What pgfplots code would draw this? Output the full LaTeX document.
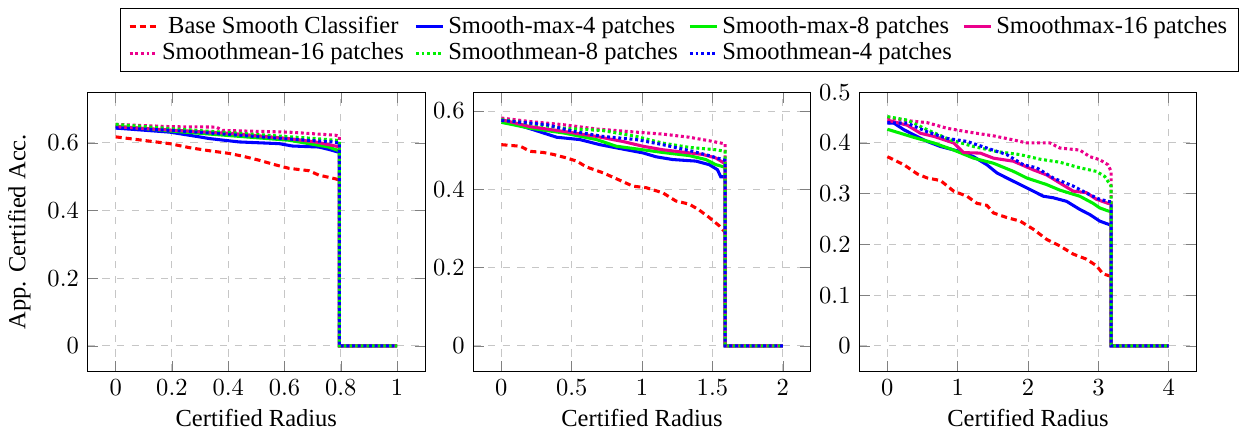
\documentclass[border=0pt]{standalone}
\usepackage{fontspec}
\setmainfont{Liberation Serif}
\usepackage{pgfplots}
\pgfplotsset{compat=1.18}
\definecolor{mypink}{RGB}{235,0,140}
\definecolor{mygreen}{RGB}{0,240,0}
\pgfplotsset{
  myax/.style={
    scale only axis, width=137.7pt, height=113.8pt,
    grid=major, grid style={dashed, gray!45, line width=0.4pt},
    xlabel={Certified Radius},
    xticklabel style={yshift=0pt},
    every axis x label/.append style={yshift=1.3pt},
    legend image code/.code={\draw[##1] (0pt,0pt) -- (11pt,0pt);},
  },
  sbase/.style={red, line width=1.25pt, dash pattern=on 2.5pt off 1.6pt},
  smaxfour/.style={blue, line width=1.25pt},
  smaxeight/.style={mygreen, line width=1.25pt},
  smaxsixteen/.style={mypink, line width=1.25pt},
  smeansixteen/.style={mypink, line width=1.25pt, dash pattern=on 1.2pt off 1.1pt},
  smeaneight/.style={mygreen, line width=1.25pt, dash pattern=on 1.2pt off 1.1pt},
  smeanfour/.style={blue, line width=1.25pt, dash pattern=on 1.2pt off 1.1pt},
}
\begin{document}
\begin{tikzpicture}
% ---------------- axis 1 ----------------
\begin{axis}[myax, at={(0pt,0pt)}, anchor=south west,
  xmin=-0.1, xmax=1.1, ymin=-0.075, ymax=0.75,
  xtick={0,0.2,0.4,0.6,0.8,1}, ytick={0,0.2,0.4,0.6},
  ylabel={App. Certified Acc.},
  title={\mbox{}},
  title style={at={(0.5,1.305)}, anchor=south, yshift=-6pt, inner sep=0pt, outer sep=0pt, text height=2.9pt, text depth=0pt},
  legend columns=4, legend cell align=left,
  legend style={at={(0.097,1.3025)}, anchor=north west, draw=black, font=\normalsize,
    /tikz/every even column/.append style={column sep=2.7pt},
    nodes={inner xsep=1.6pt, inner ysep=1.2pt}},
]
\addplot[sbase] coordinates {(0,0.618)(0.192,0.598)(0.263,0.586)(0.333,0.577)(0.404,0.569)(0.451,0.561)(0.51,0.549)(0.569,0.535)(0.616,0.525)(0.687,0.518)(0.722,0.505)(0.781,0.494)(0.795,0.49)(0.795,0)(1,0)};
\addlegendentry{\ Base Smooth Classifier}
\addplot[smaxfour] coordinates {(0,0.644)(0.192,0.632)(0.298,0.618)(0.333,0.613)(0.439,0.603)(0.581,0.598)(0.628,0.591)(0.722,0.588)(0.757,0.581)(0.787,0.574)(0.795,0.573)(0.795,0)(1,0)};
\addlegendentry{Smooth-max-4 patches}
\addplot[smaxeight] coordinates {(0,0.65)(0.2,0.635)(0.4,0.622)(0.616,0.608)(0.757,0.588)(0.787,0.579)(0.795,0.578)(0.795,0)(1,0)};
\addlegendentry{Smooth-max-8 patches}
\addplot[smaxsixteen] coordinates {(0,0.648)(0.2,0.638)(0.415,0.628)(0.616,0.613)(0.71,0.603)(0.787,0.59)(0.795,0.588)(0.795,0)(1,0)};
\addlegendentry{Smoothmax-16 patches}
\addplot[smeansixteen] coordinates {(0,0.655)(0.2,0.648)(0.357,0.647)(0.38,0.637)(0.616,0.632)(0.78,0.623)(0.795,0.62)(0.795,0)(1,0)};
\addlegendentry{Smoothmean-16 patches}
\addplot[smeaneight] coordinates {(0,0.655)(0.2,0.642)(0.415,0.63)(0.71,0.613)(0.78,0.608)(0.795,0.607)(0.795,0)(1,0)};
\addlegendentry{Smoothmean-8 patches}
\addplot[smeanfour] coordinates {(0,0.645)(0.2,0.637)(0.357,0.628)(0.592,0.613)(0.77,0.603)(0.795,0.6)(0.795,0)(1,0)};
\addlegendentry{Smoothmean-4 patches}
\end{axis}
% ---------------- axis 2 ----------------
\begin{axis}[myax, at={(157.3pt,0pt)}, anchor=south west,
  xmin=-0.2, xmax=2.2, ymin=-0.065, ymax=0.648,
  xtick={0,0.5,1,1.5,2}, ytick={0,0.2,0.4,0.6},
]
\addplot[sbase] coordinates {(0,0.514)(0.134,0.51)(0.205,0.497)(0.3,0.494)(0.37,0.489)(0.464,0.48)(0.535,0.472)(0.605,0.457)(0.723,0.442)(0.817,0.427)(0.935,0.408)(1.03,0.404)(1.147,0.391)(1.241,0.37)(1.336,0.362)(1.406,0.347)(1.477,0.328)(1.548,0.307)(1.571,0.298)(1.59,0.29)(1.59,0)(2,0)};
\addplot[smaxfour] coordinates {(0,0.576)(0.111,0.565)(0.229,0.552)(0.393,0.533)(0.558,0.527)(0.7,0.514)(0.888,0.501)(1.006,0.493)(1.1,0.483)(1.218,0.476)(1.383,0.472)(1.477,0.463)(1.536,0.45)(1.559,0.432)(1.59,0.432)(1.59,0)(2,0)};
\addplot[smaxeight] coordinates {(0,0.571)(0.205,0.556)(0.44,0.544)(0.676,0.527)(0.817,0.51)(1.006,0.501)(1.147,0.494)(1.336,0.486)(1.453,0.476)(1.524,0.463)(1.583,0.457)(1.59,0.457)(1.59,0)(2,0)};
\addplot[smaxsixteen] coordinates {(0,0.578)(0.205,0.56)(0.44,0.548)(0.676,0.535)(0.865,0.522)(1.006,0.51)(1.147,0.501)(1.312,0.494)(1.431,0.489)(1.524,0.48)(1.583,0.467)(1.59,0.466)(1.59,0)(2,0)};
\addplot[smeansixteen] coordinates {(0,0.582)(0.205,0.573)(0.44,0.565)(0.676,0.554)(0.959,0.546)(1.147,0.541)(1.336,0.533)(1.477,0.524)(1.59,0.516)(1.59,0)(2,0)};
\addplot[smeaneight] coordinates {(0,0.578)(0.44,0.556)(0.723,0.55)(0.959,0.535)(1.147,0.518)(1.336,0.507)(1.524,0.501)(1.59,0.497)(1.59,0)(2,0)};
\addplot[smeanfour] coordinates {(0,0.576)(0.323,0.565)(0.511,0.548)(0.723,0.535)(0.959,0.527)(1.147,0.514)(1.359,0.497)(1.477,0.486)(1.571,0.476)(1.59,0.474)(1.59,0)(2,0)};
\end{axis}
% ---------------- axis 3 ----------------
\begin{axis}[myax, at={(314.7pt,0pt)}, anchor=south west,
  xmin=-0.4, xmax=4.4, ymin=-0.05, ymax=0.5,
  xtick={0,1,2,3,4}, ytick={0,0.1,0.2,0.3,0.4,0.5},
]
\addplot[sbase] coordinates {(0,0.373)(0.236,0.357)(0.425,0.339)(0.566,0.331)(0.755,0.326)(0.943,0.305)(1.132,0.295)(1.274,0.281)(1.415,0.277)(1.509,0.262)(1.698,0.253)(1.887,0.246)(2.075,0.23)(2.264,0.21)(2.453,0.197)(2.642,0.181)(2.83,0.171)(2.972,0.158)(3.066,0.142)(3.16,0.138)(3.18,0.138)(3.18,0)(4,0)};
\addplot[smaxfour] coordinates {(0,0.439)(0.094,0.439)(0.236,0.426)(0.377,0.416)(0.566,0.403)(0.755,0.393)(1.038,0.383)(1.226,0.373)(1.415,0.357)(1.557,0.341)(1.698,0.331)(1.887,0.318)(2.075,0.305)(2.217,0.295)(2.358,0.292)(2.547,0.285)(2.736,0.269)(2.877,0.259)(3.019,0.246)(3.137,0.24)(3.18,0.238)(3.18,0)(4,0)};
\addplot[smaxeight] coordinates {(0,0.427)(0.189,0.419)(0.377,0.411)(0.66,0.4)(0.943,0.386)(1.226,0.37)(1.509,0.36)(1.792,0.344)(1.981,0.331)(2.264,0.318)(2.453,0.307)(2.736,0.295)(2.925,0.281)(3.019,0.272)(3.137,0.266)(3.18,0.265)(3.18,0)(4,0)};
\addplot[smaxsixteen] coordinates {(0,0.445)(0.283,0.435)(0.472,0.419)(0.66,0.413)(0.943,0.4)(1.085,0.381)(1.321,0.38)(1.509,0.37)(1.792,0.364)(2.075,0.347)(2.264,0.337)(2.453,0.321)(2.642,0.305)(2.83,0.302)(2.972,0.289)(3.137,0.281)(3.18,0.28)(3.18,0)(4,0)};
\addplot[smeansixteen] coordinates {(0,0.45)(0.283,0.444)(0.566,0.44)(0.849,0.429)(1.132,0.422)(1.509,0.414)(1.792,0.406)(1.981,0.4)(2.311,0.4)(2.453,0.39)(2.736,0.386)(2.877,0.373)(3.019,0.367)(3.137,0.357)(3.18,0.344)(3.18,0)(4,0)};
\addplot[smeaneight] coordinates {(0,0.452)(0.283,0.445)(0.566,0.426)(0.896,0.406)(1.226,0.393)(1.557,0.383)(1.887,0.377)(2.17,0.368)(2.453,0.362)(2.736,0.351)(2.972,0.344)(3.09,0.334)(3.18,0.315)(3.18,0)(4,0)};
\addplot[smeanfour] coordinates {(0,0.44)(0.283,0.439)(0.566,0.422)(0.849,0.409)(1.132,0.403)(1.415,0.39)(1.698,0.377)(1.934,0.357)(2.123,0.351)(2.358,0.331)(2.642,0.315)(2.877,0.298)(3.019,0.289)(3.137,0.285)(3.18,0.284)(3.18,0)(4,0)};
\end{axis}
\end{tikzpicture}
\end{document}
